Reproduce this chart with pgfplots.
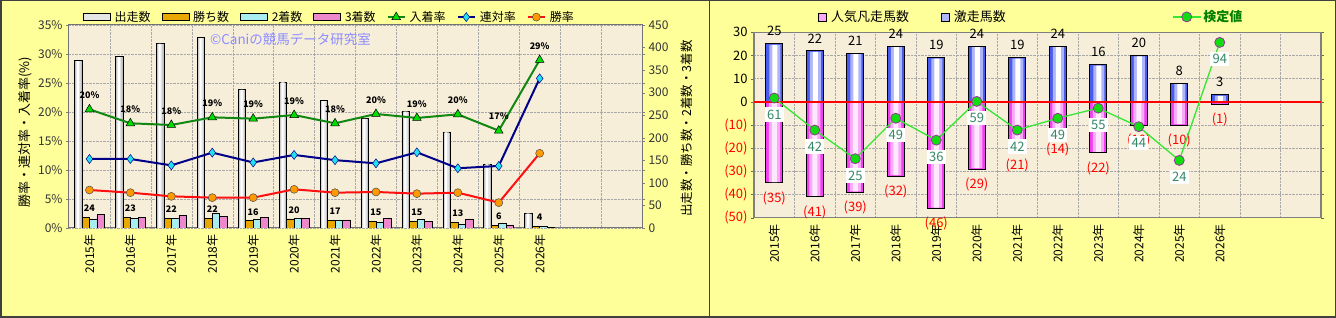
\documentclass[border=0pt]{standalone}
\usepackage{fontspec}
\setmainfont{Noto Sans CJK JP}
\usepackage{pgfplots}
\pgfplotsset{compat=1.18}
\definecolor{bgy}{HTML}{FFFF99}
\definecolor{plotbg}{HTML}{F7EEDA}
\definecolor{gridc}{HTML}{A8A8A8}
\definecolor{goldbar}{HTML}{E8A800}
\definecolor{cyanbar}{HTML}{A8EEF0}
\definecolor{pinkbar}{HTML}{EE88CC}
\definecolor{placeline}{HTML}{118811}
\definecolor{placemark}{HTML}{00DD00}
\definecolor{rentai}{HTML}{000088}
\definecolor{rentaimark}{HTML}{22E0F0}
\definecolor{winline}{HTML}{FF1010}
\definecolor{winmark}{HTML}{FF9900}
\definecolor{kenline}{HTML}{33E833}
\definecolor{kenmark}{HTML}{11DD11}
\definecolor{kenedge}{HTML}{993399}
\definecolor{kentext}{HTML}{338866}
\definecolor{blueb}{HTML}{4A5CF0}
\definecolor{pinkb}{HTML}{F040F0}
\newcommand{\fs}[1]{\fontsize{#1}{#1}\selectfont}
\pgfplotsset{
  /pgf/number format/assume math mode=true,
  years/.style={
    xmin=-0.5, xmax=13.5,
    xtick={0,...,11},
    xticklabels={2015年,2016年,2017年,2018年,2019年,2020年,2021年,2022年,2023年,2024年,2025年,2026年},
    x tick label style={rotate=90, anchor=east, font=\fs{12}},
    minor xtick={0.5,1.5,...,12.5},
    xminorgrids, ymajorgrids,
    grid style={densely dotted, gridc},
    minor grid style={densely dotted, gridc},
    axis background/.style={fill=plotbg},
    xtick style={draw=none},
  },
  sqlegend/.style={legend image code/.code={\draw[##1] (0pt,-4pt) rectangle (8pt,4pt);}},
  barlegend/.style={legend image code/.code={\draw[##1] (0pt,-3.5pt) rectangle (27pt,3.5pt);}},
}
\begin{document}
\begin{tikzpicture}
\fill[bgy] (0pt,0pt) rectangle (1336pt,318pt);

% ---------------- Left chart: background / percent axis
\begin{axis}[
  at={(69pt,90pt)}, anchor=south west, scale only axis, width=573pt, height=203pt,
  years, ymin=0, ymax=35, ytick={0,5,...,35},
  yticklabel={\pgfmathprintnumber{\tick}\%},
  y tick label style={font=\fs{12}, black!80},
  tick align=outside, major tick length=3pt,
  axis line style={black!55, line width=1pt},
  ylabel={勝率・連対率・入着率(\%)},
  ylabel style={at={(axis description cs:-0.077,0.47)}, anchor=center, font=\fs{13}},
]
\addplot[draw=none] coordinates {(0,0)};
\node[text=blue!45, font=\fs{13.5}, anchor=west] at (axis description cs:0.24,0.93) {©Caniの競馬データ研究室};
\end{axis}

% ---------------- Left chart: counts (bars)
\begin{axis}[
  at={(69pt,90pt)}, anchor=south west, scale only axis, width=573pt, height=203pt,
  xmin=-0.5, xmax=13.5, ymin=0, ymax=450,
  axis y line*=right, axis x line=none,
  ytick={0,50,...,450},
  y tick label style={font=\fs{12}, black!80},
  tick align=outside, major tick length=3pt,
  y axis line style={black!55, line width=1pt},
  ylabel={出走数・勝ち数・2着数・3着数},
  ylabel style={at={(axis description cs:1.078,0.49)}, anchor=center, font=\fs{12.5}},
]
% runs (cylinder look: outer, middle, inner layers)
\addplot[ybar, bar width=7.5pt, bar shift=-11.25pt, draw=black, line width=0.6pt, fill=gray!50]
  coordinates {(0,371) (1,380) (2,409) (3,422) (4,307) (5,324) (6,282) (7,243) (8,259) (9,213) (10,142) (11,33)};
\addplot[ybar, bar width=4.6pt, bar shift=-11.25pt, draw=none, fill=gray!22]
  coordinates {(0,370) (1,379) (2,408) (3,421) (4,306) (5,323) (6,281) (7,242) (8,258) (9,212) (10,141) (11,32)};
\addplot[ybar, bar width=2pt, bar shift=-11.6pt, draw=none, fill=white]
  coordinates {(0,370) (1,379) (2,408) (3,421) (4,306) (5,323) (6,281) (7,242) (8,258) (9,212) (10,141) (11,32)};
\addplot[ybar, bar width=7.5pt, bar shift=-3.75pt, draw=black, line width=0.6pt, fill=goldbar,
  nodes near coords, nodes near coords style={font=\bfseries\fs{9}, text=black, anchor=south, yshift=2pt}]
  coordinates {(0,24) (1,23) (2,22) (3,22) (4,16) (5,20) (6,17) (7,15) (8,15) (9,13) (10,6) (11,4)};
\addplot[ybar, bar width=7.5pt, bar shift=3.75pt, draw=black, line width=0.6pt, fill=cyanbar]
  coordinates {(0,20) (1,22) (2,22) (3,33) (4,19) (5,21) (6,16) (7,12) (8,19) (9,9) (10,10) (11,4)};
\addplot[ybar, bar width=7.5pt, bar shift=11.25pt, draw=black, line width=0.6pt, fill=pinkbar]
  coordinates {(0,30) (1,23) (2,28) (3,26) (4,23) (5,22) (6,18) (7,21) (8,15) (9,20) (10,7) (11,1)};
\end{axis}

% ---------------- Left chart: rates (lines)
\begin{axis}[
  at={(69pt,90pt)}, anchor=south west, scale only axis, width=573pt, height=203pt,
  xmin=-0.5, xmax=13.5, ymin=0, ymax=35, hide axis,
  legend columns=-1,
  legend style={at={(axis description cs:0.024,1.039)}, anchor=west, draw=none, fill=none,
    font=\fs{12}, inner sep=0pt,
    /tikz/every odd column/.append style={column sep=2pt},
    /tikz/every even column/.append style={column sep=9pt}},
]
\addlegendimage{barlegend, draw=black, line width=0.6pt, fill=gray!20}
\addlegendentry{出走数}
\addlegendimage{barlegend, draw=black, line width=0.6pt, fill=goldbar}
\addlegendentry{勝ち数}
\addlegendimage{barlegend, draw=black, line width=0.6pt, fill=cyanbar}
\addlegendentry{2着数}
\addlegendimage{barlegend, draw=black, line width=0.6pt, fill=pinkbar}
\addlegendentry{3着数}
\addplot[placeline, line width=2pt, mark=triangle*, mark size=5pt,
  mark options={fill=placemark, draw=black, line width=0.5pt},
  point meta=explicit symbolic, nodes near coords,
  nodes near coords style={font=\bfseries\fs{9}, text=black, anchor=south, yshift=7pt}]
  coordinates {(0,20.46) [20\%] (1,18.05) [18\%] (2,17.76) [18\%] (3,19.08) [19\%] (4,18.85) [19\%] (5,19.48) [19\%]
               (6,18.05) [18\%] (7,19.66) [20\%] (8,18.97) [19\%] (9,19.6) [20\%] (10,16.78) [17\%] (11,28.97) [29\%]};
\addlegendentry{入着率}
\addplot[rentai, line width=2pt, mark=diamond*, mark size=4.5pt,
  mark options={fill=rentaimark, draw=rentai, line width=0.5pt}]
  coordinates {(0,11.9) (1,11.9) (2,10.8) (3,13.0) (4,11.3) (5,12.6) (6,11.7) (7,11.15) (8,13.05) (9,10.3) (10,10.7) (11,25.8)};
\addlegendentry{連対率}
\addplot[winline, line width=2pt, mark=*, mark size=4pt,
  mark options={fill=winmark, draw=black!70, line width=0.5pt}]
  coordinates {(0,6.55) (1,6.09) (2,5.46) (3,5.23) (4,5.23) (5,6.67) (6,6.09) (7,6.21) (8,5.92) (9,6.09) (10,4.37) (11,12.88)};
\addlegendentry{勝率}
\end{axis}

% ---------------- Right chart: counts
\begin{axis}[
  at={(754pt,100.3pt)}, anchor=south west, scale only axis, width=567pt, height=185.4pt,
  years, ymin=-50, ymax=30, ytick={-50,-40,...,30},
  yticklabels={{\color{red}(50)},{\color{red}(40)},{\color{red}(30)},{\color{red}(20)},{\color{red}(10)},0,10,20,30},
  y tick label style={font=\fs{13}},
  ytick style={black!60}, tick align=outside, major tick length=3pt,
  axis line style={black!50, line width=1.2pt},
  legend columns=-1,
  legend style={at={(axis description cs:0.113,1.083)}, anchor=west, draw=none, fill=none,
    font=\fs{13}, inner sep=0pt,
    /tikz/every odd column/.append style={column sep=2pt},
    /tikz/every even column/.append style={column sep=30pt}},
]
\addlegendimage{sqlegend, draw=black, line width=0.8pt, fill=pinkb!45}
\addlegendentry{人気凡走馬数}
\addlegendimage{sqlegend, draw=black, line width=0.8pt, fill=blueb!45}
\addlegendentry{激走馬数}
% popular horses that ran badly (negative)
\addplot[ybar, bar width=17pt, bar shift=0pt, draw=black, line width=0.9pt, fill=pinkb, forget plot,
  point meta=explicit symbolic, nodes near coords={(\pgfplotspointmeta)},
  nodes near coords style={font=\fs{13}, text=red, anchor=north, yshift=-5pt}]
  coordinates {(0,-35) [35] (1,-41) [41] (2,-39) [39] (3,-32) [32] (4,-46) [46] (5,-29) [29]
               (6,-21) [21] (7,-14) [14] (8,-22) [22] (9,-10) [10] (10,-10) [10] (11,-1) [1]};
\addplot[ybar, bar width=11pt, bar shift=0pt, draw=none, fill=pinkb!45, forget plot]
  coordinates {(0,-34.6) (1,-40.6) (2,-38.6) (3,-31.6) (4,-45.6) (5,-28.6) (6,-20.6) (7,-13.6) (8,-21.6) (9,-9.6) (10,-9.6) (11,-0.6)};
\addplot[ybar, bar width=5pt, bar shift=0pt, draw=none, fill=pinkb!12, forget plot]
  coordinates {(0,-34.6) (1,-40.6) (2,-38.6) (3,-31.6) (4,-45.6) (5,-28.6) (6,-20.6) (7,-13.6) (8,-21.6) (9,-9.6) (10,-9.6) (11,-0.6)};
% horses that ran well (positive)
\addplot[ybar, bar width=17pt, bar shift=0pt, draw=black, line width=0.9pt, fill=blueb, forget plot,
  nodes near coords, nodes near coords style={font=\fs{13}, text=black, anchor=south, yshift=4pt}]
  coordinates {(0,25) (1,22) (2,21) (3,24) (4,19) (5,24) (6,19) (7,24) (8,16) (9,20) (10,8) (11,3)};
\addplot[ybar, bar width=11pt, bar shift=0.5pt, draw=none, fill=blueb!45, forget plot]
  coordinates {(0,24.6) (1,21.6) (2,20.6) (3,23.6) (4,18.6) (5,23.6) (6,18.6) (7,23.6) (8,15.6) (9,19.6) (10,7.6) (11,2.6)};
\addplot[ybar, bar width=5pt, bar shift=0.5pt, draw=none, fill=white, forget plot]
  coordinates {(0,24.6) (1,21.6) (2,20.6) (3,23.6) (4,18.6) (5,23.6) (6,18.6) (7,23.6) (8,15.6) (9,19.6) (10,7.6) (11,2.6)};
\addplot[red, line width=2.5pt, forget plot] coordinates {(-0.5,0) (13.5,0)};
\end{axis}

% ---------------- Right chart: test value (secondary hidden axis)
\begin{axis}[
  at={(754pt,100.3pt)}, anchor=south west, scale only axis, width=567pt, height=185.4pt,
  xmin=-0.5, xmax=13.5, ymin=-10, ymax=100, hide axis,
  legend style={at={(axis description cs:0.737,1.083)}, anchor=west, draw=none, fill=none,
    font=\bfseries\fs{13}, text=green!50!black, inner sep=0pt},
  legend image code/.code={\draw[mark repeat=2,mark phase=2,#1] plot coordinates {(0pt,0pt) (14pt,0pt) (28pt,0pt)};},
]
\addplot[kenline, line width=1.3pt, mark=*, mark size=5pt,
  mark options={fill=kenmark, draw=kenedge, line width=0.8pt},
  nodes near coords,
  nodes near coords style={font=\fs{13}, text=kentext, fill=white, inner sep=2.5pt, anchor=north, yshift=-9pt}]
  coordinates {(0,61) (1,42) (2,25) (3,49) (4,36) (5,59) (6,42) (7,49) (8,55) (9,44) (10,24) (11,94)};
\addlegendentry{検定値}
\end{axis}

\draw[black!75, line width=1.5pt] (0.75pt,0.75pt) rectangle (1335.25pt,317.25pt);
\draw[black!75, line width=1.2pt] (709.5pt,0pt) -- (709.5pt,318pt);
\pgfresetboundingbox
\path[use as bounding box] (0pt,0pt) rectangle (1336pt,318pt);
\end{tikzpicture}
\end{document}
